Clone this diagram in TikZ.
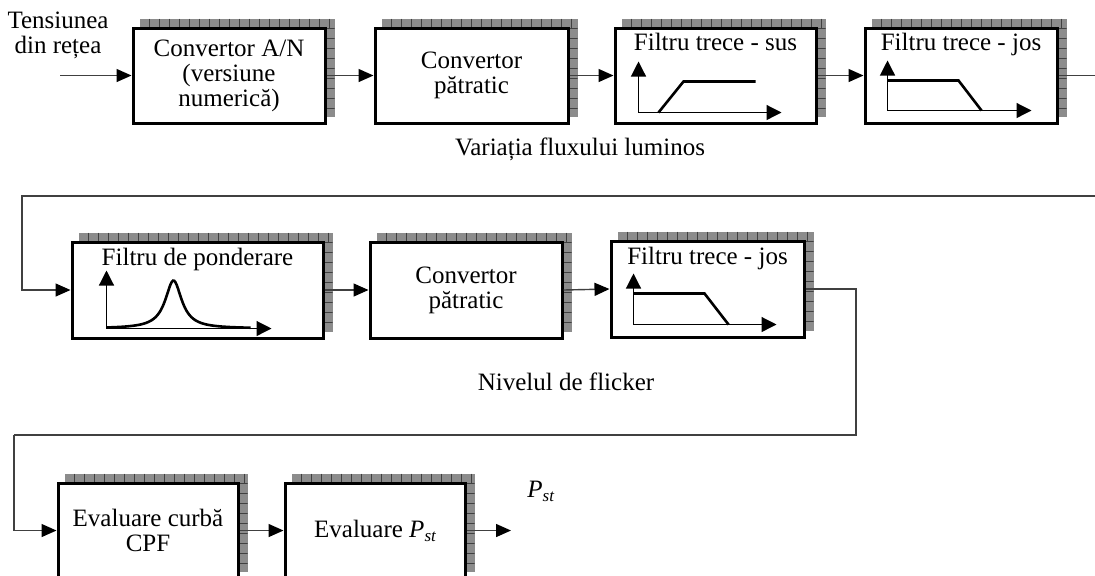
\documentclass[tikz,border=0pt]{standalone}
\usepackage{fontspec}
\setmainfont{Liberation Serif}
\usetikzlibrary{arrows.meta,backgrounds,calc}
\newcommand\pst{\textit{P}\raisebox{-0.35ex}{\fontsize{8.5}{8.5}\selectfont\itshape st}}
\begin{document}
\begin{tikzpicture}[x=0.5pt,y=-0.5pt,
  txt/.style={font=\fontsize{12.5}{12.5}\selectfont, inner sep=0pt},
  blk/.style={draw, line width=1.5pt, fill=white, inner sep=0pt, align=center,
    font=\fontsize{12.5}{12.5}\selectfont},
  conn/.style={draw=black!75, line width=0.7pt},
  arr/.style={conn, -{Triangle[length=7.5pt,width=6.5pt,color=black]}},
  axis/.style={draw=black, line width=0.6pt, -{Triangle[length=7.5pt,width=7.5pt]}},
  curve/.style={draw=black, line width=1.3pt},
  shadowfill/.style={fill=black!45},
  shadowline/.style={draw=black!75, line width=0.35pt}
]
\useasboundingbox (0,0) rectangle (1095,575);
\clip (0,0) rectangle (1095,575);

% ---------- boxes ----------
\node[blk, minimum width={(325-133)*0.5pt}, minimum height={(123-28)*0.5pt}] (b1) at ({(133+325)/2},{(28+123)/2}) {Convertor A/N\\(versiune\\numerică)};
\node[blk, minimum width={(568-375)*0.5pt}, minimum height={(123-28)*0.5pt}] (b2) at ({(375+568)/2},{(28+123)/2}) {Convertor\\pătratic};
\node[blk, minimum width={(816-615)*0.5pt}, minimum height={(123-28)*0.5pt}] (b3) at ({(615+816)/2},{(28+123)/2}) {};
\node[blk, minimum width={(1057-865)*0.5pt}, minimum height={(123-28)*0.5pt}] (b4) at ({(865+1057)/2},{(28+123)/2}) {};

\node[blk, minimum width={(323-72)*0.5pt}, minimum height={(338-242)*0.5pt}] (b5) at ({(72+323)/2},{(242+338)/2}) {};
\node[blk, minimum width={(562-370)*0.5pt}, minimum height={(338-242)*0.5pt}] (b6) at ({(370+562)/2},{(242+338)/2}) {Convertor\\pătratic};
\node[blk, minimum width={(804-611)*0.5pt}, minimum height={(337-241)*0.5pt}] (b7) at ({(611+804)/2},{(241+337)/2}) {};

\node[blk, minimum width={(238-58)*0.5pt}, minimum height={(578-483)*0.5pt}] (b8) at ({(58+238)/2},{(483+578)/2}) {Evaluare curbă\\CPF};
\node[blk, minimum width={(465-285)*0.5pt}, minimum height={(578-483)*0.5pt}] (b9) at ({(285+465)/2},{(483+578)/2}) {Evaluare \pst};

% ---------- shadows ----------
\begin{pgfonlayer}{background}
\foreach \n in {b1,b2,b3,b4,b5,b6,b7,b8,b9}{
  \fill[shadowfill, path picture={
      \foreach \k in {1,...,30}{\draw[shadowline] ([xshift=\k*5pt]path picture bounding box.north west) -- ++(0,9);}
      \foreach \k in {1,...,12}{\draw[shadowline] ([yshift=-\k*5pt]path picture bounding box.north east) -- ++(-9,0);}
    }]
    ([shift={(8,-8)}]\n.north west) rectangle ([shift={(8,-8)}]\n.south east);
}
\end{pgfonlayer}

% ---------- box titles ----------
\node[txt, anchor=base] (t3) at ($(b3.north)+(0,24)$) {Filtru trece - sus};
\node[txt, anchor=base] (t4) at ($(b4.north)+(0,24)$) {Filtru trece - jos};
\node[txt, anchor=base] (t5) at ($(b5.north)+(0,25)$) {Filtru de ponderare};
\node[txt, anchor=base] (t7) at ($(b7.north)+(0,25)$) {Filtru trece - jos};

% ---------- mini graphs ----------
% high-pass
\draw[axis] ($(b3.north west)+(25,86)$) -- ($(b3.north west)+(25,35)$);
\draw[axis] ($(b3.north west)+(25,86)$) -- ($(b3.north west)+(168,86)$);
\draw[curve] ($(b3.north west)+(45,86)$) -- ($(b3.north west)+(70,55)$) -- ($(b3.north west)+(142,55)$);
% low-pass 1
\draw[axis] ($(b4.north west)+(24,84)$) -- ($(b4.north west)+(24,34)$);
\draw[axis] ($(b4.north west)+(24,84)$) -- ($(b4.north west)+(168,84)$);
\draw[curve] ($(b4.north west)+(24,54)$) -- ($(b4.north west)+(95,54)$) -- ($(b4.north west)+(118,84)$);
% low-pass 2
\draw[axis] ($(b7.north west)+(24,85)$) -- ($(b7.north west)+(24,34)$);
\draw[axis] ($(b7.north west)+(24,85)$) -- ($(b7.north west)+(167,85)$);
\draw[curve] ($(b7.north west)+(24,54)$) -- ($(b7.north west)+(95,54)$) -- ($(b7.north west)+(119,85)$);
% weighting filter
\draw[axis] ($(b5.north west)+(36,88)$) -- ($(b5.north west)+(36,30)$);
\draw[axis] ($(b5.north west)+(36,88)$) -- ($(b5.north west)+(201,88)$);
\begin{scope}[shift={($(b5.north west)+(103,88)$)}]
  \draw[curve] plot[domain=-67:77, samples=120, smooth] ({\x},{-48/(1+(\x/10)^2)});
\end{scope}

% ---------- labels ----------
\node[txt, align=center, anchor=north] (in) at (58,11.5) {Tensiunea\\din rețea};
\node[txt, anchor=base] (lv) at (580,155) {Variația fluxului luminos};
\node[txt, anchor=base] (ln) at (566,390) {Nivelul de flicker};

% ---------- coordinates ----------
\coordinate (s0) at (60,75.5);
\coordinate (e1) at (1100,75.5);
\coordinate (r1) at (1100,196);
\coordinate (l1) at (22,196);
\coordinate (c1) at (856,435);
\coordinate (c2) at (14,435);
\coordinate (o9) at (511,530.5);

% ---------- connectors ----------
\draw[arr] (s0) -- (b1.west);
\draw[arr] (b1.east) -- (b2.west);
\draw[arr] (b2.east) -- (b3.west);
\draw[arr] (b3.east) -- (b4.west);
\draw[conn] (b4.east) -- (e1);
\draw[arr] (r1) -- (l1) |- (b5.west);
\draw[arr] (b5.east) -- (b6.west);
\draw[arr] (b6.east) -- (b7.west);
\draw[conn] (b7.east) -| (c1) -- (c2);
\draw[arr] (c2) |- (b8.west);
\draw[arr] (b8.east) -- (b9.west);
\draw[arr] (b9.east) -- (o9);
\node[txt, anchor=base west] (pst) at (527,497) {\pst};
\end{tikzpicture}
\end{document}
